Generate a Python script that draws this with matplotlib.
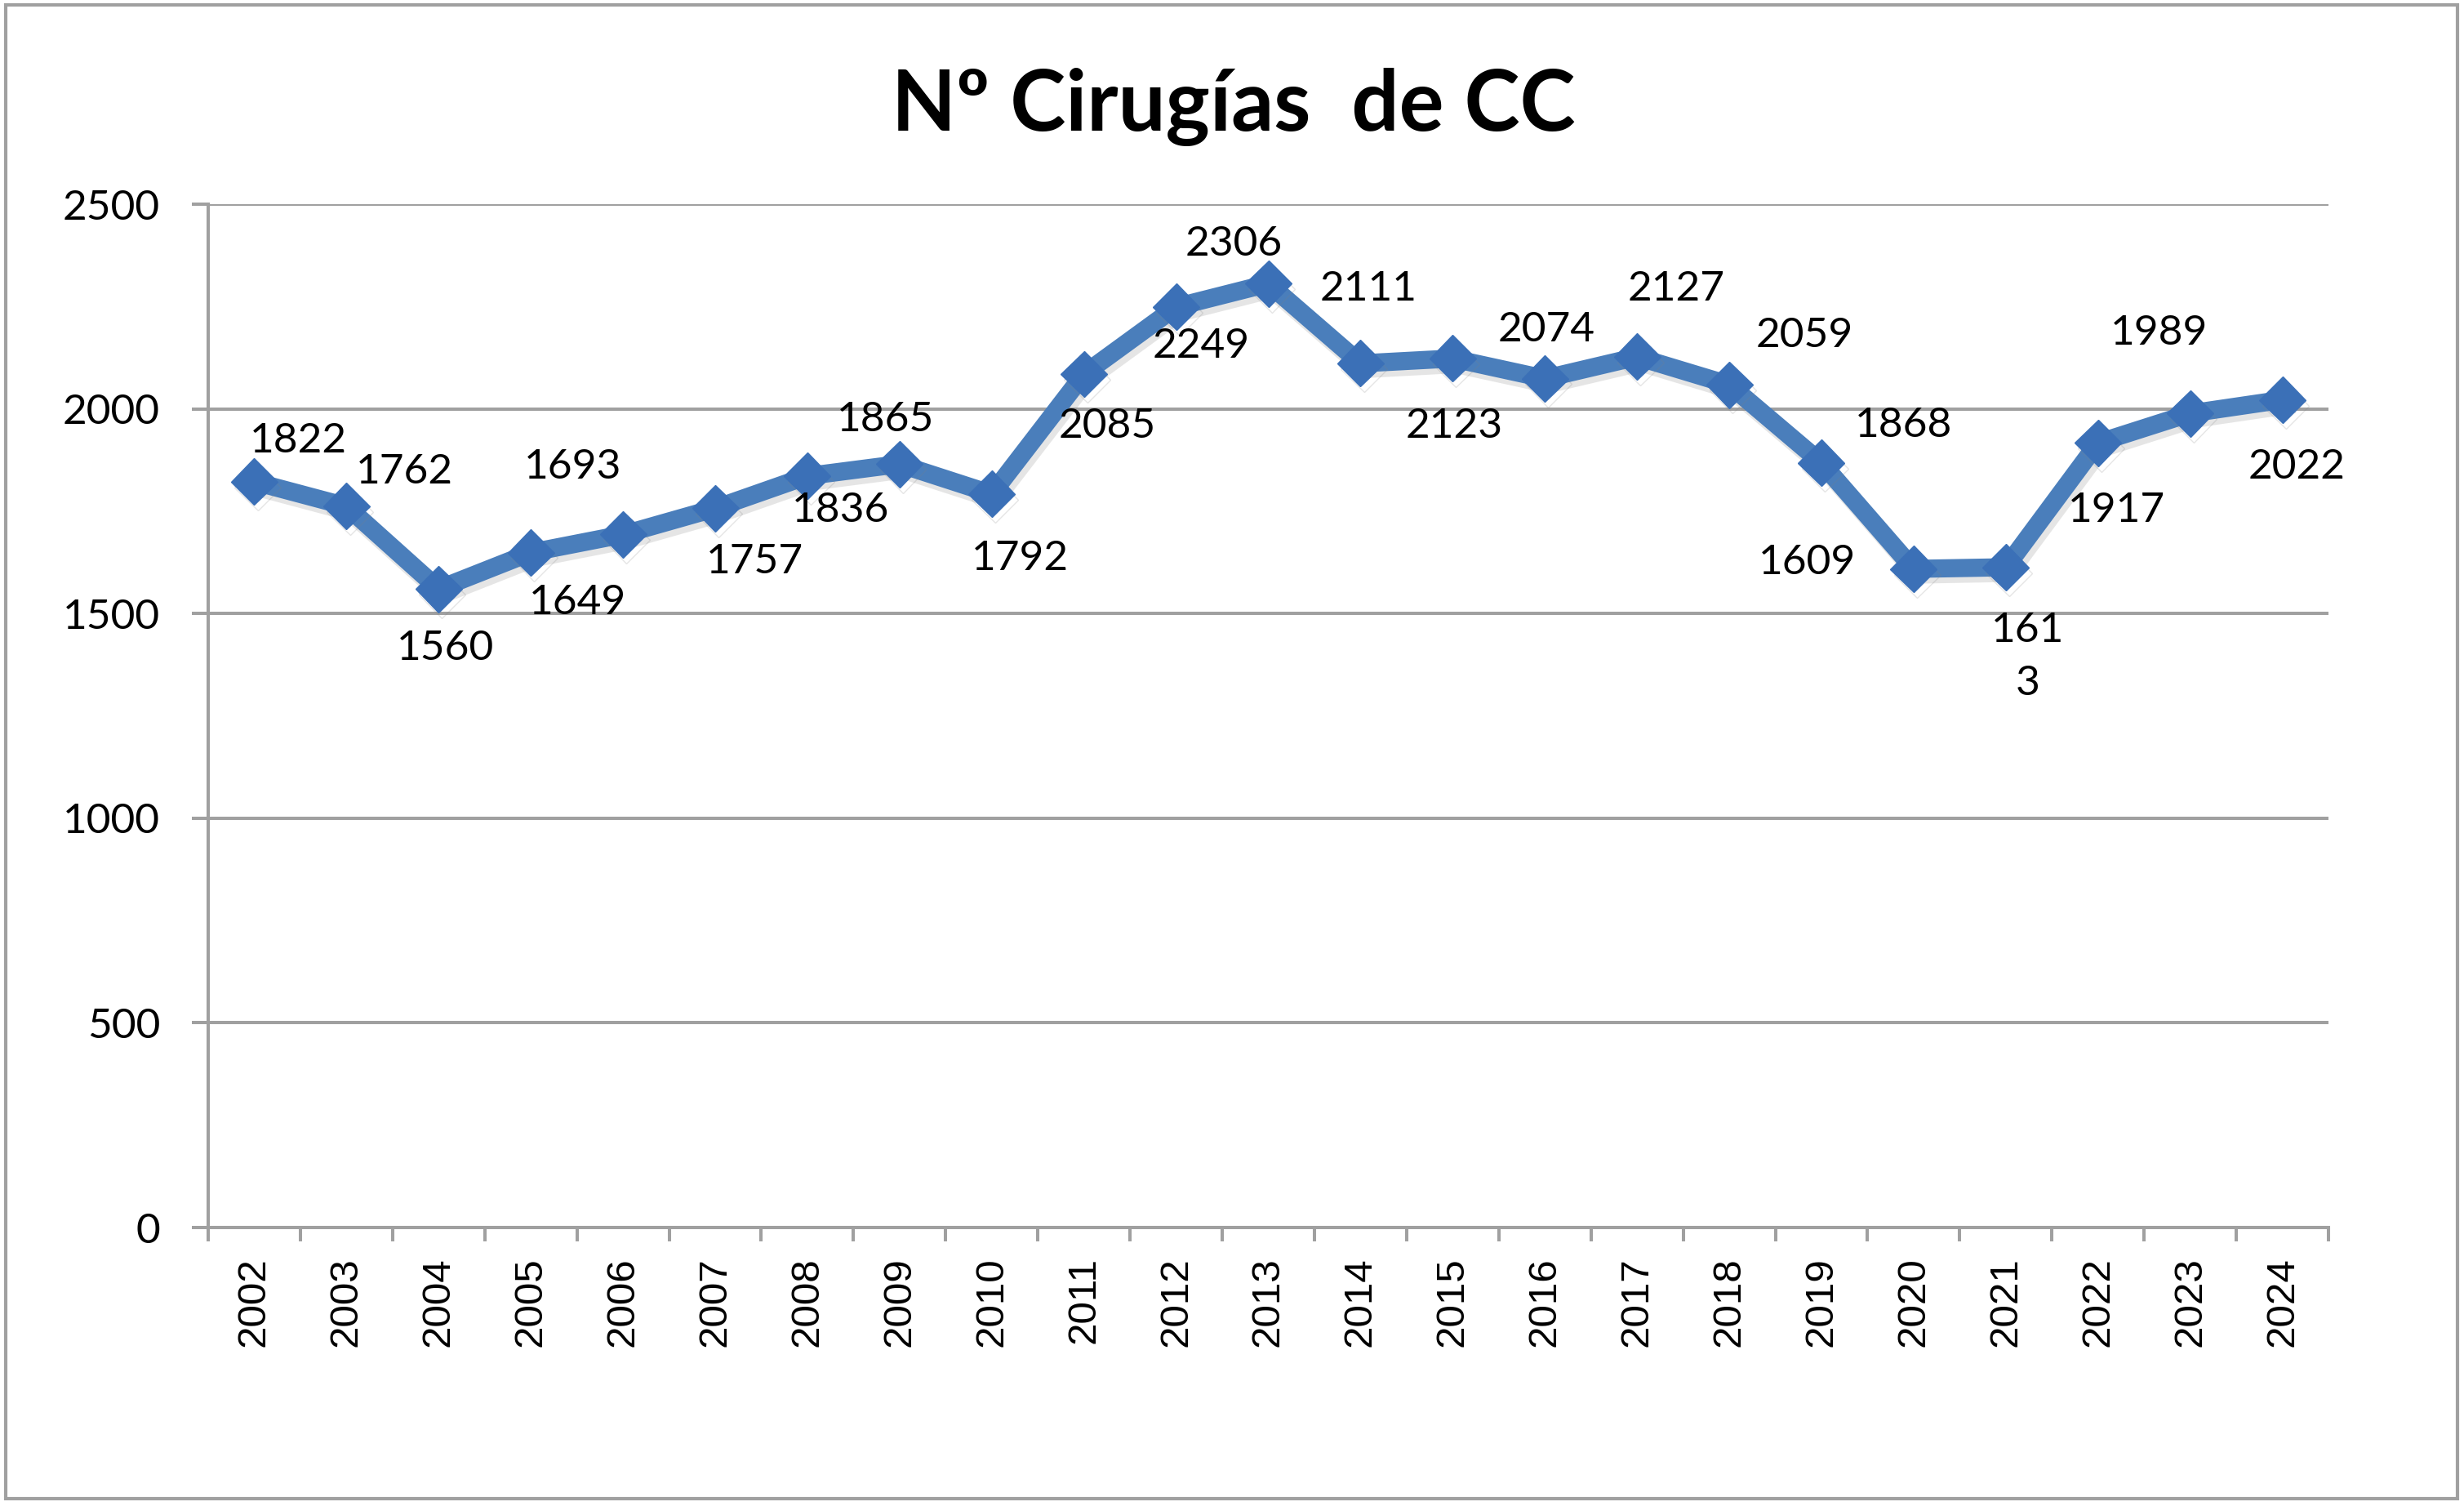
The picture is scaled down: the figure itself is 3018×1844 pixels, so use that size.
"""Nº Cirugías de CC, 2002-2024."""

import numpy as np
import matplotlib
matplotlib.use("Agg")
import matplotlib.pyplot as plt
import matplotlib.patheffects as pe
from matplotlib.patches import Rectangle

# datos
anios = ["2002", "2003", "2004", "2005", "2006", "2007", "2008", "2009",
         "2010", "2011", "2012", "2013", "2014", "2015", "2016", "2017",
         "2018", "2019", "2020", "2021", "2022", "2023", "2024"]
cirugias = [1822, 1762, 1560, 1649, 1693, 1757, 1836, 1865, 1792, 2085,
            2249, 2306, 2111, 2123, 2074, 2127, 2059, 1868, 1609, 1613,
            1917, 1989, 2022]
etiquetas = [str(v) for v in cirugias]
etiquetas[19] = "161\n3"   # en el original la etiqueta sale partida
titulo = "Nº Cirugías  de CC"
yticks = [0, 500, 1000, 1500, 2000, 2500]

# desplazamiento de cada etiqueta respecto a su punto (px de la imagen reducida, y hacia abajo)
desplaz = [(28, -26), (37, -22), (4, 38), (30, 32), (-32, -43), (25, 34),
           (21, 22), (-9, -28), (18, 41), (15, 33), (16, 25), (-22, -25),
           (5, -47), (1, 43), (1, -31), (25, -43), (48, -31), (52, -24),
           (-68, -4), (14, 57), (12, 43), (-20, -51), (9, 43)]

W, H = 3018, 1844
gris = "#a0a0a0"
azul = "#4a7ebb"
azul_marc = "#3b70b7"
fuente = ["Lato", "DejaVu Sans"]

fig = plt.figure(figsize=(W / 100, H / 100), dpi=100)
fig.patch.set_facecolor("white")

# marco exterior
fig.patches.append(Rectangle((7 / W, 1 - 1835 / H), (3010 - 7) / W, (1835 - 6) / H,
                             transform=fig.transFigure, fill=False,
                             edgecolor=gris, linewidth=3, zorder=0))

ax = fig.add_axes([255 / W, 1 - 1503 / H, (2852 - 255) / W, (1503 - 250) / H])
x = np.arange(len(anios))

ax.plot(x, cirugias, color=azul, linewidth=16, marker="D", markersize=29,
        markerfacecolor=azul_marc, markeredgecolor=azul_marc, markeredgewidth=1,
        solid_joinstyle="miter", zorder=3,
        path_effects=[pe.SimpleLineShadow(offset=(3, -5), shadow_color="gray", alpha=0.2),
                      pe.Normal()])

for i, (xi, v) in enumerate(zip(x, cirugias)):
    dx, dy = desplaz[i]
    ax.annotate(etiquetas[i], (xi, v), xytext=(dx * 1.925, -dy * 1.925),
                textcoords="offset pixels", ha="center", va="center",
                fontsize=37, family=fuente, color="black", linespacing=1.5,
                annotation_clip=False, zorder=4)

ax.set_xlim(-0.5, len(anios) - 0.5)
ax.set_ylim(0, 2500)

# eje y
ax.set_yticks(yticks)
ax.set_yticklabels([str(t) for t in yticks], fontsize=37, family=fuente)
ax.tick_params(axis="y", length=14.4, width=2.9, color=gris, pad=28)
ax.grid(axis="y", color=gris, linewidth=2.9, zorder=1)

# eje x: marcas entre categorías, etiquetas en el centro
ax.set_xticks(np.arange(-0.5, len(anios), 1))
ax.set_xticklabels([])
ax.set_xticks(x, minor=True)
ax.set_xticklabels(anios, minor=True, rotation=90, fontsize=35.6,
                   family=["Liberation Sans", "DejaVu Sans"])
ax.tick_params(axis="x", which="major", length=12, width=2.9, color=gris)
ax.tick_params(axis="x", which="minor", length=0, pad=26)

for s in ["top", "right"]:
    ax.spines[s].set_visible(False)
for s in ["left", "bottom"]:
    ax.spines[s].set_color(gris)
    ax.spines[s].set_linewidth(2.9)
ax.set_axisbelow(True)

fig.text(1511 / W, 1 - 160 / H, titulo, ha="center", va="baseline",
         fontsize=74, fontweight="bold", family=fuente)

fig.savefig("out.png", dpi=100, facecolor="white")
